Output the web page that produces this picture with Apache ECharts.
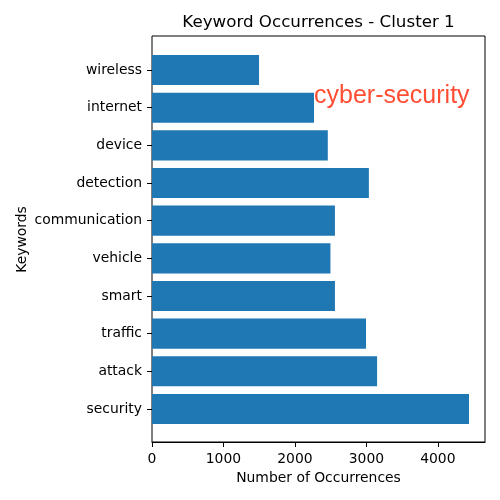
<!DOCTYPE html>
<html>
<head>
<meta charset="utf-8">
<script src="https://cdn.jsdelivr.net/npm/echarts@6/dist/echarts.min.js"></script>
<style>html,body{margin:0;padding:0;background:#fff}#c{width:500px;height:500px}</style>
</head>
<body>
<div id="c"></div>
<script>
const categories = ['security','attack','traffic','smart','vehicle','communication','detection','device','internet','wireless'];
const values = [4436, 3150, 2995, 2560, 2497, 2560, 3035, 2460, 2267, 1498];
const xTicks = [0, 1000, 2000, 3000, 4000];
const annotationText = 'cyber-security';
const annotationCategory = 'internet';
const annotationValue = values[categories.indexOf(annotationCategory)];

const FONT = 'DejaVu Sans';
const XMAX = 4660;
const chart = echarts.init(document.getElementById('c'), null, {renderer: 'canvas'});
chart.setOption({
  animation: false,
  backgroundColor: '#fff',
  title: {
    text: 'Keyword Occurrences - Cluster 1',
    left: 318.5, top: 14, textAlign: 'center', padding: 0,
    textStyle: {fontFamily: FONT, fontSize: 16.7, fontWeight: 'normal', color: '#000'}
  },
  grid: [
    {left: 152, right: 15, top: 51.2, bottom: 72.2, show: false},
    {left: 152, right: 15, top: 36, bottom: 58, show: true, borderColor: '#000', borderWidth: 1, backgroundColor: 'transparent'}
  ],
  xAxis: [
    {gridIndex: 0, type: 'value', min: 0, max: XMAX, show: false},
    {gridIndex: 1, type: 'value', min: 0, max: XMAX, interval: 1000,
      name: 'Number of Occurrences', nameLocation: 'middle', nameGap: 29, nameMoveOverlap: false,
      nameTextStyle: {fontFamily: FONT, fontSize: 13.9, color: '#000'},
      axisLine: {show: true, lineStyle: {color: '#000', width: 1}},
      axisTick: {show: true, length: 5, lineStyle: {color: '#000'}, customValues: xTicks},
      axisLabel: {show: true, margin: 10, fontFamily: FONT, fontSize: 13.9, color: '#000',
        customValues: xTicks, formatter: v => String(v)},
      splitLine: {show: false}
    }
  ],
  yAxis: [
    {gridIndex: 0, type: 'category', data: categories,
      name: 'Keywords', nameLocation: 'middle', nameGap: 123, nameMoveOverlap: false,
      nameTextStyle: {fontFamily: FONT, fontSize: 13.9, color: '#000'},
      axisLine: {show: false},
      axisTick: {show: true, length: 5, alignWithLabel: true, lineStyle: {color: '#000'}},
      axisLabel: {margin: 10, fontFamily: FONT, fontSize: 13.9, color: '#000'},
      splitLine: {show: false}
    },
    {gridIndex: 1, type: 'value', min: 0, max: 1, show: false}
  ],
  series: [
    {type: 'bar', xAxisIndex: 0, yAxisIndex: 0, data: values, barWidth: '80%',
      itemStyle: {color: '#1f77b4'}},
    {type: 'scatter', xAxisIndex: 0, yAxisIndex: 0, symbolSize: 0,
      data: [[annotationValue, annotationCategory]],
      label: {show: true, position: 'right', distance: 0, offset: [0, -12],
        formatter: annotationText, fontFamily: 'Liberation Sans', fontSize: 25, color: '#ff2200'},
      z: 5}
  ]
});
</script>
</body>
</html>
